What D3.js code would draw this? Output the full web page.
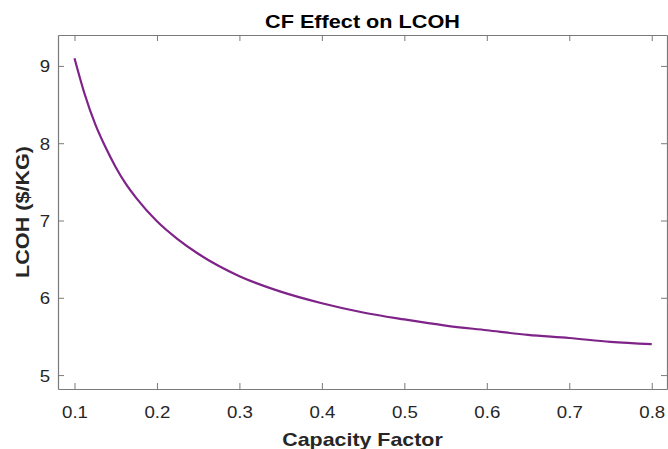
<!DOCTYPE html>
<html>
<head>
<meta charset="utf-8">
<script src="https://cdn.jsdelivr.net/npm/d3@7"></script>
<style>
  html, body { margin: 0; padding: 0; background: #fff; }
  svg { display: block; }
  text { font-family: "Liberation Sans", Arial, Helvetica, sans-serif; }
</style>
</head>
<body>
<svg id="chart" width="668" height="449"></svg>
<script>
(function () {
// Data
const capacityFactor = [0.10, 0.1125, 0.125, 0.1375, 0.15, 0.1625, 0.175, 0.20, 0.225, 0.25, 0.30, 0.35, 0.40, 0.45, 0.50, 0.55, 0.60, 0.65, 0.70, 0.75, 0.80];
const lcoh           = [9.10, 8.63, 8.25, 7.95, 7.69, 7.47, 7.29, 6.99, 6.76, 6.57, 6.28, 6.08, 5.93, 5.81, 5.72, 5.64, 5.58, 5.52, 5.48, 5.43, 5.40];
const xTicks = [0.1, 0.2, 0.3, 0.4, 0.5, 0.6, 0.7, 0.8];
const yTicks = [5, 6, 7, 8, 9];
const xDomain = [0.08, 0.8185];
const yDomain = [4.82, 9.40];
const titleText = "CF Effect on LCOH";
const xLabelText = "Capacity Factor";
const yLabelText = "LCOH ($/KG)";

const svg = d3.select("#chart");
const margin = { left: 58, right: 1, top: 35, bottom: 60 };
const W = 668, H = 449;
const x = d3.scaleLinear().domain(xDomain).range([margin.left, W - margin.right]);
const y = d3.scaleLinear().domain(yDomain).range([H - margin.bottom, margin.top]);

const axisColor = "#7a7a7a";
const textColor = "#262626";
const stretch = 1.13;

function widen(sel, factor) {
  sel.each(function () {
    const len = this.getComputedTextLength();
    d3.select(this).attr("textLength", len * factor).attr("lengthAdjust", "spacingAndGlyphs");
  });
}

const x0 = x.range()[0], x1 = x.range()[1];
const y0 = y.range()[0], y1 = y.range()[1];

// Axes (MATLAB style box, inward ticks)
const gBottom = svg.append("g").attr("transform", `translate(0,${y0})`)
  .call(d3.axisBottom(x).tickValues(xTicks).tickSizeInner(-6).tickSizeOuter(0).tickFormat(d3.format(".1f")));
const gTop = svg.append("g").attr("transform", `translate(0,${y1})`)
  .call(d3.axisTop(x).tickValues(xTicks).tickSizeInner(-6).tickSizeOuter(0).tickFormat(""));
const gLeft = svg.append("g").attr("transform", `translate(${x0},0)`)
  .call(d3.axisLeft(y).tickValues(yTicks).tickSizeInner(-6).tickSizeOuter(0).tickFormat(d3.format("d")));
const gRight = svg.append("g").attr("transform", `translate(${x1},0)`)
  .call(d3.axisRight(y).tickValues(yTicks).tickSizeInner(-6).tickSizeOuter(0).tickFormat(""));

[gBottom, gTop, gLeft, gRight].forEach(g => {
  g.select(".domain").attr("stroke", axisColor).attr("stroke-width", 1.2);
  g.selectAll(".tick line").attr("stroke", axisColor).attr("stroke-width", 1);
  g.selectAll(".tick text").attr("fill", textColor).attr("font-size", 16.5).attr("font-family", "Liberation Sans, Arial, sans-serif");
});
gBottom.selectAll(".tick text").attr("dy", 0).attr("y", 29.3);
gLeft.selectAll(".tick text").attr("x", -8).attr("dy", "0.36em");
widen(gBottom.selectAll(".tick text"), stretch);
widen(gLeft.selectAll(".tick text"), stretch);

// Curve
const line = d3.line()
  .x((d, i) => x(capacityFactor[i]))
  .y(d => y(d))
  .curve(d3.curveMonotoneX);
svg.append("path")
  .datum(lcoh)
  .attr("d", line)
  .attr("fill", "none")
  .attr("stroke", "#7E2388")
  .attr("stroke-width", 2.2);

// Title
const cx = (x0 + x1) / 2;
svg.append("text")
  .attr("x", cx).attr("y", 28.3)
  .attr("text-anchor", "middle")
  .attr("font-weight", "bold").attr("font-size", 18.6)
  .attr("fill", "#000")
  .text(titleText)
  .call(widen, 1.165);

// X label
svg.append("text")
  .attr("x", cx).attr("y", 445.5)
  .attr("text-anchor", "middle")
  .attr("font-weight", "bold").attr("font-size", 18.6)
  .attr("fill", textColor)
  .text(xLabelText)
  .call(widen, 1.15);

// Y label
svg.append("text")
  .attr("transform", `translate(29,${(y0 + y1) / 2}) rotate(-90)`)
  .attr("text-anchor", "middle")
  .attr("font-weight", "bold").attr("font-size", 18.6)
  .attr("fill", textColor)
  .text(yLabelText)
  .call(widen, 1.16);
})();
</script>
</body>
</html>
